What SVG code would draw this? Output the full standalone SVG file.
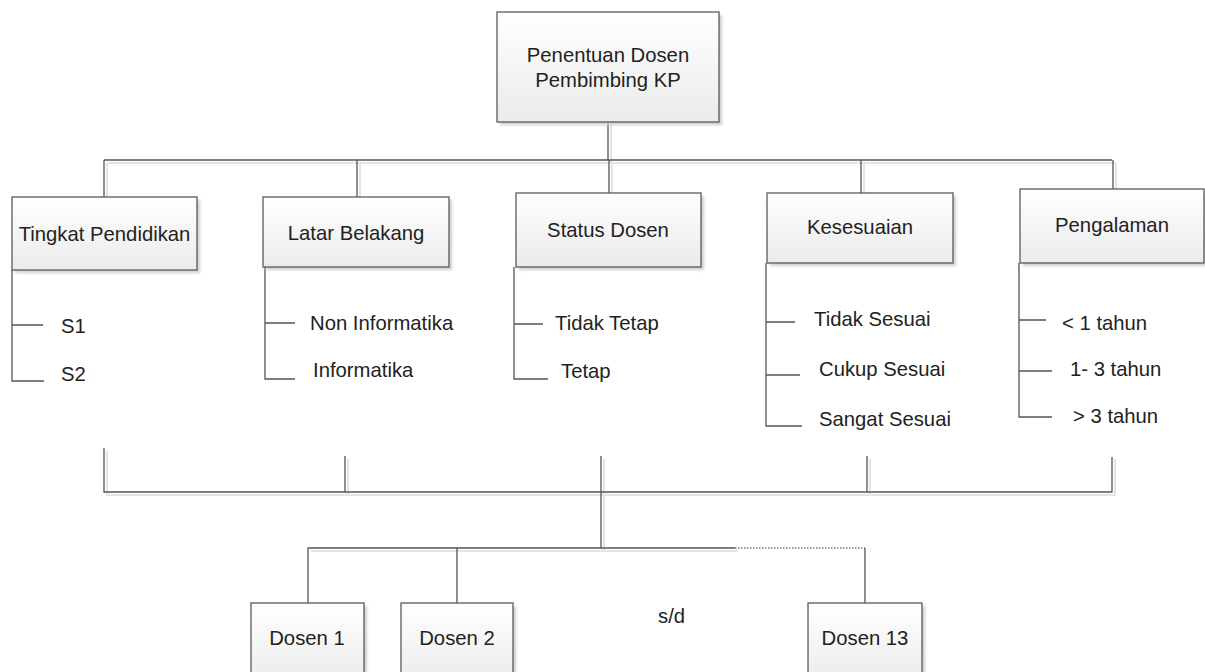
<svg xmlns="http://www.w3.org/2000/svg" width="1205" height="672" viewBox="0 0 1205 672">
<defs>
<linearGradient id="g" x1="0" y1="0" x2="0" y2="1">
<stop offset="0" stop-color="#ffffff"/>
<stop offset="1" stop-color="#ebebeb"/>
</linearGradient>
<filter id="sh" x="-10%" y="-10%" width="130%" height="130%">
<feGaussianBlur stdDeviation="1.5"/>
</filter>
</defs>
<style>
.box{fill:url(#g);stroke:#5a5a5a;stroke-width:1.3}
.shadow{fill:#cfcfcf;filter:url(#sh)}
.ln{fill:none;stroke:#555;stroke-width:1.3}
.lns{fill:none;stroke:#e4e4e4;stroke-width:2}
.dot{fill:none;stroke:#777;stroke-width:1.3;stroke-dasharray:1.5 1.5}
text{font-family:"Liberation Sans",Arial,sans-serif;font-size:20.3px;fill:#222}
.c{text-anchor:middle}
</style>
<rect width="1205" height="672" fill="#ffffff"/>
<g id="connectors">
<path class="lns" d="M611 124V163 M107 163H1115 M107 163V198 M360 163V198 M612 163V194 M864 163V194 M1116 163V190"/>
<path class="ln" d="M608 122V160 M104 160H1112 M104 160V197 M357 160V197 M609 160V193 M861 160V193 M1113 160V189"/>
<path class="ln" d="M12 270V381H44 M12 325H43"/>
<path class="ln" d="M265 267V379H295 M265 323H295"/>
<path class="ln" d="M514 267V379H548 M514 324H543"/>
<path class="ln" d="M766 263V426H802 M766 322H795 M766 375H800"/>
<path class="ln" d="M1019 263V417H1052 M1019 320H1046 M1019 371H1052"/>
<path class="lns" d="M107 451V495H1115V459 M348 459V495 M604 459V551 M870 459V495 M311 551H738"/>
<path class="ln" d="M104 448V492H1112V457 M345 456V492 M601 456V548 M867 456V492"/>
<path class="ln" d="M308 603V548H735 M457 548V603"/>
<path class="dot" d="M735 548H865"/>
<path class="ln" d="M865 548V603"/>
</g>
<g id="root">
<rect class="shadow" x="500" y="15" width="222" height="110"/>
<rect class="box" x="497" y="12" width="222" height="110"/>
<text class="c" x="608" y="62">Penentuan Dosen</text>
<text class="c" x="608" y="87">Pembimbing KP</text>
</g>
<g id="tingkat">
<rect class="shadow" x="15" y="200" width="185" height="73"/>
<rect class="box" x="12" y="197" width="185" height="73"/>
<text class="c" x="104.5" y="241">Tingkat Pendidikan</text>
</g>
<g id="tingkat-items">
<text x="61" y="333">S1</text>
<text x="61" y="381">S2</text>
</g>
<g id="latar">
<rect class="shadow" x="266" y="200" width="186" height="70"/>
<rect class="box" x="263" y="197" width="186" height="70"/>
<text class="c" x="356" y="240">Latar Belakang</text>
</g>
<g id="latar-items">
<text x="310" y="330">Non Informatika</text>
<text x="313" y="377">Informatika</text>
</g>
<g id="status">
<rect class="shadow" x="519" y="196" width="185" height="74"/>
<rect class="box" x="516" y="193" width="185" height="74"/>
<text class="c" x="608" y="237">Status Dosen</text>
</g>
<g id="status-items">
<text x="555" y="330">Tidak Tetap</text>
<text x="561" y="378">Tetap</text>
</g>
<g id="kesesuaian">
<rect class="shadow" x="770" y="196" width="186" height="70"/>
<rect class="box" x="767" y="193" width="186" height="70"/>
<text class="c" x="860" y="234">Kesesuaian</text>
</g>
<g id="kesesuaian-items">
<text x="814" y="326">Tidak Sesuai</text>
<text x="819" y="376">Cukup Sesuai</text>
<text x="819" y="426">Sangat Sesuai</text>
</g>
<g id="pengalaman">
<rect class="shadow" x="1023" y="192" width="184" height="74"/>
<rect class="box" x="1020" y="189" width="184" height="74"/>
<text class="c" x="1112" y="232">Pengalaman</text>
</g>
<g id="pengalaman-items">
<text x="1062" y="330">&lt; 1 tahun</text>
<text x="1070" y="376">1- 3 tahun</text>
<text x="1073" y="423">&gt; 3 tahun</text>
</g>
<g id="dosen1">
<rect class="shadow" x="254" y="606" width="113" height="80"/>
<rect class="box" x="251" y="603" width="113" height="80"/>
<text class="c" x="307" y="645">Dosen 1</text>
</g>
<g id="dosen2">
<rect class="shadow" x="404" y="606" width="112" height="80"/>
<rect class="box" x="401" y="603" width="112" height="80"/>
<text class="c" x="457" y="645">Dosen 2</text>
</g>
<text x="658" y="623">s/d</text>
<g id="dosen13">
<rect class="shadow" x="811" y="606" width="114" height="80"/>
<rect class="box" x="808" y="603" width="114" height="80"/>
<text class="c" x="865" y="645">Dosen 13</text>
</g>
</svg>
